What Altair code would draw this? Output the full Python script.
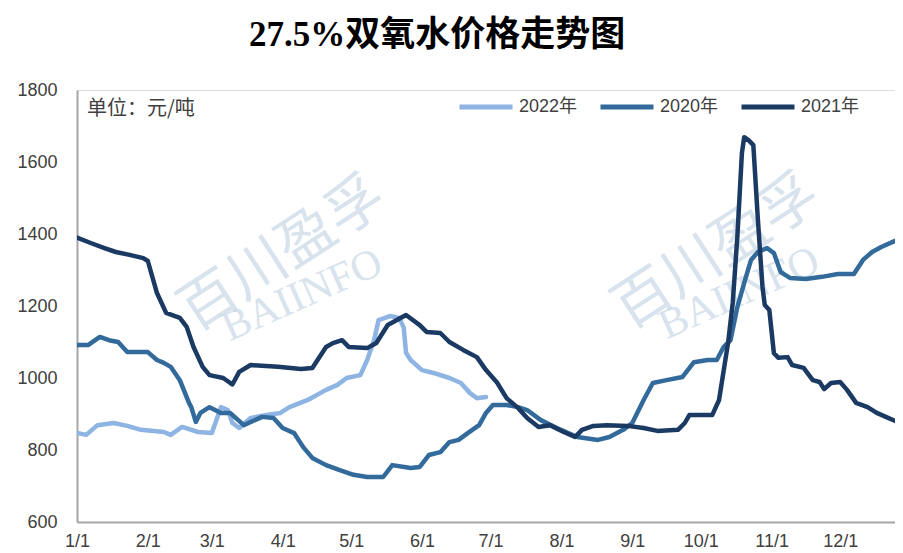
import altair as alt
import pandas as pd

# ---- data (day offset from Jan 1, price in 元/吨) ----
names = ["2022年", "2020年", "2021年"]
colors = ["#8DB4E2", "#336A9C", "#1B3A63"]

days_2022 = [0, 4, 9, 16, 22, 28, 38, 41, 46, 53, 59, 63, 66, 68, 71, 76, 83, 89, 93, 101,
             109, 114, 118, 124, 127, 130, 132, 137, 141, 143, 144, 146, 151, 156, 163, 168,
             172, 175, 179]
vals_2022 = [847, 842, 869, 875, 867, 856, 850, 842, 864, 850, 847, 919, 911, 875, 861, 889,
             897, 903, 919, 939, 967, 981, 1000, 1008, 1050, 1105, 1161, 1172, 1167, 1140,
             1070, 1050, 1022, 1014, 1000, 986, 958, 944, 947]

days_2020 = [0, 5, 10, 14, 18, 22, 31, 35, 38, 41, 45, 49, 50, 52, 54, 58, 63, 67, 73, 81,
             86, 90, 95, 99, 103, 109, 115, 121, 127, 134, 138, 146, 150, 154, 159, 163, 167,
             171, 176, 179, 182, 188, 193, 197, 203, 210, 214, 219, 228, 233, 239, 243, 248,
             252, 258, 265, 270, 276, 280, 283, 286, 289, 292, 295, 298, 302, 305, 308, 312,
             319, 326, 333, 340, 344, 348, 352, 357, 361]
vals_2020 = [1092, 1092, 1114, 1105, 1100, 1072, 1072, 1050, 1042, 1031, 994, 931, 919, 878,
             903, 919, 903, 903, 869, 892, 889, 861, 847, 808, 778, 758, 744, 731, 725, 725,
             758, 750, 753, 786, 794, 822, 828, 847, 869, 903, 925, 925, 919, 911, 883, 861,
             850, 836, 828, 836, 856, 875, 939, 986, 994, 1003, 1044, 1050, 1050, 1086, 1105,
             1197, 1264, 1328, 1350, 1361, 1347, 1294, 1278, 1275, 1281, 1289, 1289, 1328,
             1350, 1364, 1378, 1389]

days_2021 = [0, 6, 12, 17, 23, 29, 31, 35, 39, 45, 48, 51, 55, 58, 64, 68, 71, 76, 88, 98,
             103, 109, 112, 116, 119, 127, 131, 136, 140, 144, 150, 153, 159, 163, 169, 175,
             179, 184, 188, 193, 197, 202, 207, 213, 218, 221, 226, 232, 241, 248, 254, 263,
             266, 268, 278, 281, 283, 285, 287, 289, 291, 292, 294, 296, 298, 300, 301, 303,
             305, 307, 311, 313, 318, 322, 325, 327, 330, 334, 337, 341, 346, 350, 354, 359,
             361]
vals_2021 = [1390, 1375, 1361, 1350, 1342, 1333, 1325, 1236, 1181, 1167, 1142, 1086, 1031,
             1008, 1000, 982, 1017, 1036, 1031, 1025, 1028, 1086, 1097, 1105, 1086, 1083,
             1097, 1147, 1161, 1175, 1147, 1128, 1125, 1100, 1078, 1058, 1022, 986, 944, 917,
             889, 864, 869, 850, 836, 856, 867, 869, 867, 861, 853, 856, 875, 897, 897, 939,
             1020, 1100, 1210, 1392, 1625, 1669, 1660, 1647, 1439, 1253, 1203, 1189, 1069,
             1056, 1058, 1036, 1028, 994, 989, 969, 986, 989, 967, 931, 919, 903, 892, 878,
             864]

y_ticks = [600, 800, 1000, 1200, 1400, 1600, 1800]
month_starts = list(range(1, 13))

title_text = "27.5%双氧水价格走势图"
unit_text = "单位：元/吨"
wm_cn = "百川盈孚"
wm_en = "BAIINFO"

# ---- build table ----
base = pd.Timestamp("2001-01-01")
rows = []
for name, ds, vs in zip(names, [days_2022, days_2020, days_2021],
                        [vals_2022, vals_2020, vals_2021]):
    for d, v in zip(ds, vs):
        rows.append({"series": name,
                     "date": (base + pd.Timedelta(days=d)).strftime("%Y-%m-%dT00:00:00"),
                     "value": v})
df = pd.DataFrame(rows)

sans = "Liberation Sans, Noto Sans CJK SC"
label_color = "#404040"

lines = alt.Chart(df).mark_line(strokeWidth=4.5, clip=True, strokeJoin="round",
                                strokeCap="round").encode(
    x=alt.X("date:T",
            scale=alt.Scale(domain=[alt.DateTime(year=2001, month=1, date=1),
                                    alt.DateTime(year=2001, month=12, date=25)]),
            axis=alt.Axis(values=[alt.DateTime(year=2001, month=m, date=1) for m in month_starts],
                          labelExpr="(month(datum.value)+1) + '/1'",
                          title=None, ticks=False, grid=False,
                          domainColor="#A6A6A6", domainWidth=2,
                          labelFontSize=18, labelColor=label_color, labelFont=sans,
                          labelPadding=10, labelAngle=0, labelFlush=False)),
    y=alt.Y("value:Q",
            scale=alt.Scale(domain=[600, 1800]),
            axis=alt.Axis(values=y_ticks, format="d", title=None, ticks=False, grid=False,
                          domainColor="#A6A6A6", domainWidth=2,
                          labelFontSize=18, labelColor=label_color, labelFont=sans,
                          labelPadding=20)),
    color=alt.Color("series:N",
                    scale=alt.Scale(domain=names, range=colors),
                    sort=names,
                    legend=alt.Legend(orient="none", legendX=380, legendY=-12,
                                      direction="horizontal", title=None,
                                      symbolType="stroke", symbolSize=2809,
                                      symbolStrokeWidth=5,
                                      labelFontSize=18, labelFont=sans,
                                      labelColor=label_color, labelOffset=4,
                                      columnPadding=12)),
)

wm_color = "#C8D8E6"
wm1 = alt.Chart().mark_text(text=wm_cn, font="Noto Sans CJK SC", fontSize=58, angle=327,
                            color=wm_color, opacity=0.7, align="center",
                            baseline="middle").encode(x=alt.value(206), y=alt.value(165))
wm1e = alt.Chart().mark_text(text=wm_en, font="Liberation Serif", fontSize=42, angle=336,
                             color=wm_color, opacity=0.7, align="center",
                             baseline="middle").encode(x=alt.value(225), y=alt.value(205))
wm2 = alt.Chart().mark_text(text=wm_cn, font="Noto Sans CJK SC", fontSize=58, angle=327,
                            color=wm_color, opacity=0.7, align="center",
                            baseline="middle").encode(x=alt.value(640), y=alt.value(163))
wm2e = alt.Chart().mark_text(text=wm_en, font="Liberation Serif", fontSize=42, angle=336,
                             color=wm_color, opacity=0.7, align="center",
                             baseline="middle").encode(x=alt.value(662), y=alt.value(203))

title = alt.Chart().mark_text(text=title_text, font="Liberation Serif, Noto Sans CJK SC",
                              fontSize=35, fontWeight="bold", color="#000000",
                              align="center", baseline="alphabetic").encode(
    x=alt.value(360), y=alt.value(-44))
unit = alt.Chart().mark_text(text=unit_text, font="Noto Sans CJK SC", fontSize=20,
                             color=label_color, align="left",
                             baseline="middle").encode(x=alt.value(10), y=alt.value(19))

chart = alt.layer(wm1, wm1e, wm2, wm2e, lines, title, unit).properties(
    width=818, height=432,
    padding={"left": 69, "top": 82, "right": 0, "bottom": 30},
    autosize=alt.AutoSizeParams(type="none"),
).configure_view(stroke=None).configure(background="white")

chart.save("out.html", embed_options={"renderer": "svg", "actions": False})
